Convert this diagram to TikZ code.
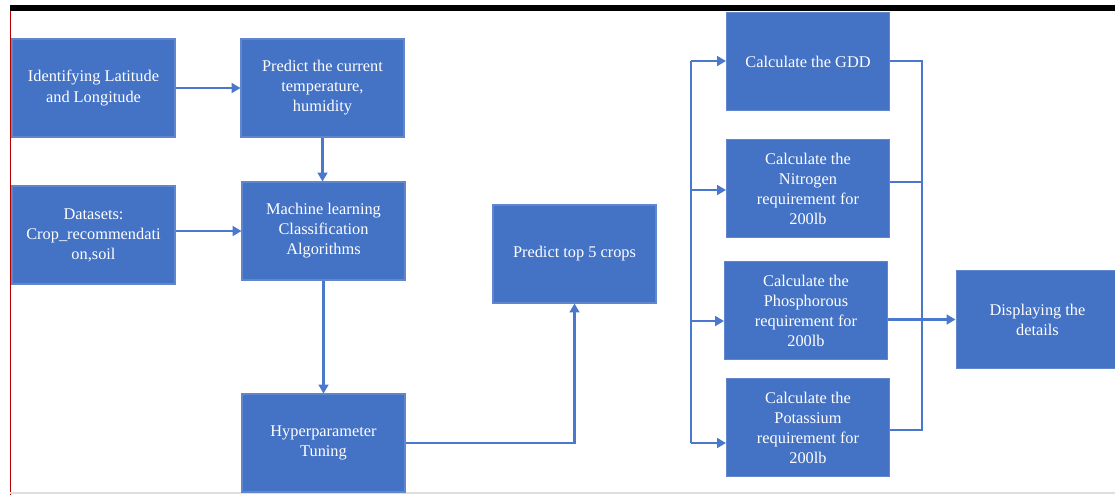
\documentclass[tikz,border=0pt]{standalone}
\usepackage{fontspec}
\setmainfont{Liberation Serif}
\usetikzlibrary{arrows.meta}
\definecolor{boxblue}{HTML}{4472C4}
\definecolor{lineblue}{HTML}{4A78CC}
\tikzset{
  stepbox/.style={fill=boxblue, draw=boxblue!85!white, line width=0.6pt,
    minimum width=3.26cm, minimum height=1.96cm, inner sep=0pt,
    align=center, text=white, font=\fontsize{9.3}{11.4}\selectfont},
  flow/.style={draw=lineblue, line width=1.3pt, -{Triangle[length=5pt,width=5.5pt]}},
  wire/.style={draw=lineblue, line width=1.3pt}
}
\begin{document}
\begin{tikzpicture}[x=0.02cm,y=-0.02cm]
\useasboundingbox (0,0) rectangle (1115,495);
% screen frame
\fill[black] (10,5) rectangle (1115,11);
\draw[red!70!black, line width=0.4pt] (10,11) -- (10,495);
\draw[gray!25, line width=0.6pt] (10,493) -- (1115,493);
% left part
\node[stepbox] (lat) at (93.5,88) {Identifying Latitude\\and Longitude};
\node[stepbox] (pred) at (322.5,88) {Predict the current\\temperature,\\humidity};
\node[stepbox] (data) at (93.5,235) {Datasets:\\Crop\_recommendati\\on,soil};
\node[stepbox] (ml) at (323.5,231) {Machine learning\\Classification\\Algorithms};
\node[stepbox] (hyper) at (323.5,443) {Hyperparameter\\Tuning};
\node[stepbox] (top5) at (574.5,254) {Predict top 5 crops};
% right part
\node[stepbox] (gdd) at (808,61.5) {Calculate the GDD};
\node[stepbox] (nit) at (808,188.5) {Calculate the\\Nitrogen\\requirement for\\200lb};
\node[stepbox] (pho) at (806,310.5) {Calculate the\\Phosphorous\\requirement for\\200lb};
\node[stepbox] (pot) at (808,427.5) {Calculate the\\Potassium\\requirement for\\200lb};
\node[stepbox] (disp) at (1037.5,319.5) {Displaying the\\details};
% connectors
\draw[flow] (lat) -- (pred);
\draw[flow] (pred.south) -- (pred.south |- ml.north);
\draw[flow] (data.east |- ml) -- (ml.west);
\draw[flow] (ml) -- (hyper);
\draw[flow] (hyper.east) -| (top5.south);
% split bus
\coordinate (splitTop) at (691,61);
\coordinate (splitN) at (691,190);
\coordinate (splitP) at (691,321);
\coordinate (splitBot) at (691,443);
\draw[wire] (splitTop) -- (splitBot);
\draw[flow] (splitTop) -- (splitTop -| gdd.west);
\draw[flow] (splitN) -- (splitN -| nit.west);
\draw[flow] (splitP) -- (splitP -| pho.west);
\draw[flow] (splitBot) -- (splitBot -| pot.west);
% join bus
\coordinate (joinTop) at (922,61);
\coordinate (joinN) at (922,182);
\coordinate (joinBot) at (922,430);
\draw[wire] (joinTop -| gdd.east) -- (joinTop) -- (joinBot) -- (joinBot -| pot.east);
\draw[wire] (joinN -| nit.east) -- (joinN);
\draw[flow] (pho.east |- disp) -- (disp.west);
\end{tikzpicture}
\end{document}
